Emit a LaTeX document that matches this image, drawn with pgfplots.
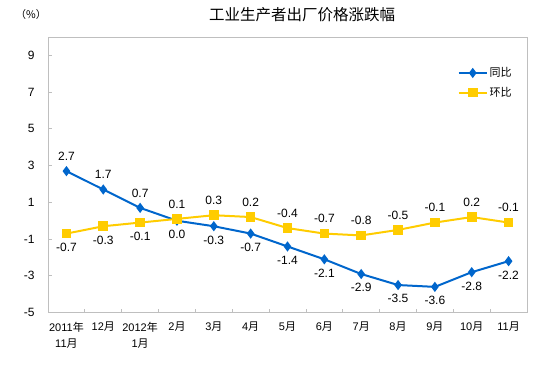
\documentclass[border=0pt]{standalone}
\usepackage{pgfplots}
\pgfplotsset{compat=1.18}
\usepackage{fontspec}
\setmainfont{Liberation Sans}
\newfontfamily\cjk{Noto Sans CJK SC}
\definecolor{tb}{HTML}{0066CC}
\definecolor{hb}{HTML}{FFCC00}
\definecolor{axc}{HTML}{BFBFBF}
\newcommand\N{{\cjk 年}}
\newcommand\Y{{\cjk 月}}
\begin{document}
\begin{tikzpicture}[x=1pt,y=1pt]
\useasboundingbox (0,0) rectangle (554,371);
\node[font=\cjk\fontsize{15.5}{18}\selectfont] at (302,356) {工业生产者出厂价格涨跌幅};
\node[font=\cjk\fontsize{10.5}{12}\selectfont] at (31,356) {（\%）};
\begin{axis}[
  at={(48pt,58.4pt)}, anchor=south west,
  scale only axis, width=479pt, height=275.6pt,
  xmin=-0.5, xmax=12.5, ymin=-5, ymax=10,
  axis line style={axc, line width=0.8pt},
  tick align=inside, tick pos=left,
  ytick={-5,-3,-1,1,3,5,7,9},
  yticklabels={-5,-3,-1,1,3,5,7,9},
  yticklabel style={font=\fontsize{12}{14}\selectfont, xshift=-10pt},
  major tick length=4pt, minor tick length=4pt,
  every tick/.style={axc, line width=0.8pt},
  xtick={0,...,12},
  major x tick style={draw=none},
  minor xtick={0.5,1.5,...,11.5},
  xticklabels={{2011\N\\11\Y},{12\Y},{2012\N\\1\Y},{2\Y},{3\Y},{4\Y},{5\Y},{6\Y},{7\Y},{8\Y},{9\Y},{10\Y},{11\Y}},
  xticklabel style={align=center, font=\fontsize{11}{16}\selectfont, yshift=-6pt},
  legend style={draw=none, fill=none, at={(0.855,0.897)}, anchor=north west,
    font=\cjk\fontsize{11}{13}\selectfont, row sep=5pt, inner sep=0pt},
  legend cell align=left,
  legend image code/.code={\draw[#1, mark repeat=2, mark phase=2] plot coordinates {(0pt,0pt) (14pt,0pt) (28pt,0pt)};},
  clip=false,
]
\addplot[tb, line width=2pt, mark=diamond*, mark size=3.5pt] coordinates {
(0,2.7) (1,1.7) (2,0.7) (3,0.0) (4,-0.3) (5,-0.7) (6,-1.4) (7,-2.1) (8,-2.9) (9,-3.5) (10,-3.6) (11,-2.8) (12,-2.2)};
\addlegendentry{同比}
\addplot[hb, line width=2pt, mark=square*, mark size=3.8pt] coordinates {
(0,-0.7) (1,-0.3) (2,-0.1) (3,0.1) (4,0.3) (5,0.2) (6,-0.4) (7,-0.7) (8,-0.8) (9,-0.5) (10,-0.1) (11,0.2) (12,-0.1)};
\addlegendentry{环比}
% labels above
\addplot[draw=none, forget plot, nodes near coords, point meta=explicit symbolic,
  every node near coord/.style={anchor=south, font=\fontsize{12}{14}\selectfont, text=black, yshift=7pt}]
coordinates {(0,2.7)[2.7] (1,1.7)[1.7] (2,0.7)[0.7]
(3,0.1)[0.1] (4,0.3)[0.3] (5,0.2)[0.2] (6,-0.4)[-0.4] (7,-0.7)[-0.7] (8,-0.8)[-0.8] (9,-0.5)[-0.5] (10,-0.1)[-0.1] (11,0.2)[0.2] (12,-0.1)[-0.1]};
% labels below
\addplot[draw=none, forget plot, nodes near coords, point meta=explicit symbolic,
  every node near coord/.style={anchor=north, font=\fontsize{12}{14}\selectfont, text=black, yshift=-6pt}]
coordinates {(0,-0.7)[-0.7] (1,-0.3)[-0.3] (2,-0.1)[-0.1]
(3,0.0)[0.0] (4,-0.3)[-0.3] (5,-0.7)[-0.7] (6,-1.4)[-1.4] (7,-2.1)[-2.1] (8,-2.9)[-2.9] (9,-3.5)[-3.5] (10,-3.6)[-3.6] (11,-2.8)[-2.8] (12,-2.2)[-2.2]};
\end{axis}
\end{tikzpicture}
\end{document}
